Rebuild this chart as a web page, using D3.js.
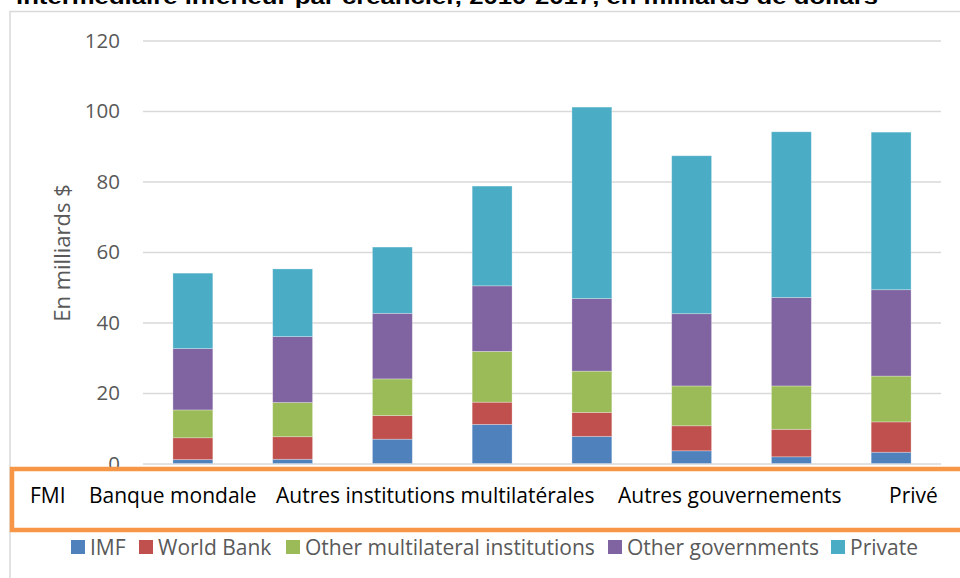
<!DOCTYPE html>
<html><head><meta charset="utf-8">
<script src="https://cdn.jsdelivr.net/npm/d3@7"></script>
<style>
html,body{margin:0;padding:0;background:#fff;}
svg{display:block;}
</style></head>
<body>
<svg id="chart" width="960" height="578"></svg>
<script>
const years = ["2010","2011","2012","2013","2014","2015","2016","2017"];
const seriesNames = ["IMF","World Bank","Other multilateral institutions","Other governments","Private"];
const imf        = [1.1, 1.2, 6.9, 11.1, 7.7, 3.6, 1.9, 3.2];
const worldBank  = [6.2, 6.4, 6.7, 6.3, 6.8, 7.1, 7.8, 8.6];
const otherMulti = [7.9, 9.7, 10.4, 14.4, 11.7, 11.3, 12.3, 13.0];
const otherGov   = [17.4, 18.7, 18.6, 18.6, 20.6, 20.5, 25.1, 24.5];
const privateS   = [21.4, 19.2, 18.8, 28.3, 54.3, 44.8, 47.0, 44.7];
const yTicks = [0, 20, 40, 60, 80, 100, 120];
const boxLabels = ["FMI","Banque mondale","Autres institutions multilatérales","Autres gouvernements","Privé"];
const titleText = "intermédiaire inférieur par créancier, 2010-2017, en milliards de dollars";
const yLabel = "En milliards $";

const colors = ["#4F81BD","#C0504D","#9BBB59","#8064A2","#4BACC6"];
const seriesVals = [imf, worldBank, otherMulti, otherGov, privateS];

const svg = d3.select("#chart");
const font = "'Open Sans', 'Noto Sans', sans-serif";

const rows = years.map((y,i) => {
  const r = {year: y};
  seriesNames.forEach((s,k) => r[s] = seriesVals[k][i]);
  return r;
});
const stack = d3.stack().keys(seriesNames)(rows);

const x = d3.scaleBand().domain(years).range([143, 941]).paddingInner(0.6).paddingOuter(0.3);
const y = d3.scaleLinear().domain([0, 120]).range([463.5, 40.5]);

// Title (cut at top, as in the reference)
svg.append("text").attr("x", 16).attr("y", 4)
  .attr("font-family", "'Liberation Sans', Arial, sans-serif").attr("font-weight", "bold")
  .attr("font-size", 20).attr("fill", "#000")
  .attr("textLength", 862).attr("lengthAdjust", "spacingAndGlyphs")
  .text(titleText);

// Chart frame
svg.append("rect").attr("x", 10).attr("y", 11.5).attr("width", 970).attr("height", 600)
  .attr("fill", "none").attr("stroke", "#d9d9d9").attr("stroke-width", 1.5);

// Gridlines + ticks
const yAxis = d3.axisLeft(y).tickValues(yTicks).tickSize(-(941-143)).tickPadding(23);
const gy = svg.append("g").attr("transform", "translate(143,0)").call(yAxis);
gy.select(".domain").remove();
gy.selectAll(".tick line").attr("stroke", "#d9d9d9").attr("stroke-width", 1.5);
gy.selectAll(".tick text").attr("font-family", font).attr("font-size", 20.5).attr("fill", "#595959");

// Axis title
svg.append("text").attr("transform", "translate(70,253) rotate(-90)")
  .attr("text-anchor", "middle").attr("font-family", font).attr("font-size", 22)
  .attr("fill", "#595959").text(yLabel);

// Bars
svg.append("g").selectAll("g").data(stack).join("g")
  .attr("fill", (d,i) => colors[i])
  .selectAll("rect").data(d => d).join("rect")
  .attr("x", d => x(d.data.year))
  .attr("width", x.bandwidth())
  .attr("y", d => y(d[1]))
  .attr("height", d => y(d[0]) - y(d[1]))
  .attr("stroke", "rgba(255,255,255,0.35)").attr("stroke-width", 0.8);

// Orange overlay box with French labels
svg.append("rect").attr("x", 12).attr("y", 469).attr("width", 980).attr("height", 61)
  .attr("fill", "#fff").attr("stroke", "#F79646").attr("stroke-width", 4.5);
const boxX = [30, 89, 276, 618, 889];
svg.append("g").selectAll("text").data(boxLabels).join("text")
  .attr("x", (d,i) => boxX[i]).attr("y", 503)
  .attr("font-family", font).attr("font-size", 21).attr("fill", "#000")
  .text(d => d);

// Legend
const legX = [71, 139, 286, 608, 831];
const leg = svg.append("g").selectAll("g").data(seriesNames).join("g")
  .attr("transform", (d,i) => `translate(${legX[i]},540)`);
leg.append("rect").attr("width", 14).attr("height", 14).attr("fill", (d,i) => colors[i]);
leg.append("text").attr("x", 19).attr("y", 14.5)
  .attr("font-family", font).attr("font-size", 21).attr("fill", "#595959")
  .text(d => d);
</script>
</body></html>
